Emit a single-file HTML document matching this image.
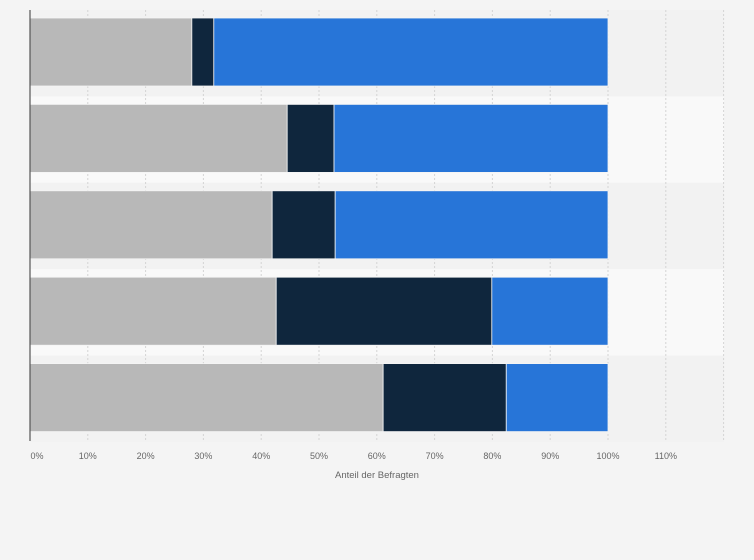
<!DOCTYPE html>
<html><head><meta charset="utf-8"><style>
body{margin:0;background:#f4f4f4;font-family:"Liberation Sans",sans-serif}
svg{display:block}
</style></head><body>
<svg width="754" height="560" xmlns="http://www.w3.org/2000/svg" id="c">
<rect width="754" height="560" fill="#f4f4f4"/>
<g id="bands"></g><g id="grid"></g><g id="bars"></g><g id="ticks"></g>
<line x1="30" y1="10" x2="30" y2="441" stroke="#555" stroke-width="1.2"/>
<text x="377" y="478" font-size="9.5" fill="#666" text-anchor="middle">Anteil der Befragten</text>
</svg>
<script>
const categories=["r1","r2","r3","r4","r5"];
const seriesGray=[28.0,44.5,41.9,42.6,61.1];
const seriesDark=[3.8,8.1,10.9,37.3,21.3];
const seriesBlue=[68.2,47.4,47.2,20.1,17.6];
const tickValues=[0,10,20,30,40,50,60,70,80,90,100,110];
const tickLabels=["0%","10%","20%","30%","40%","50%","60%","70%","80%","90%","100%","110%"];
const NS="http://www.w3.org/2000/svg";
const xs=v=>30+v*5.78;
const bandH=86.4, plotTop=10;
const ys=i=>plotTop+i*bandH;
function mk(t,a,p){const e=document.createElementNS(NS,t);for(const k in a)e.setAttribute(k,a[k]);p.appendChild(e);return e;}
const bandsG=document.getElementById('bands'),gridG=document.getElementById('grid'),barsG=document.getElementById('bars'),ticksG=document.getElementById('ticks');
categories.forEach((c,i)=>{
 const b=mk('rect',{x:30,y:ys(i),width:694,height:bandH,fill:i%2?'#f9f9f9':'#f2f2f2'},bandsG);
 
 
});
tickValues.concat([120]).forEach((v)=>{
 const l=mk('line',{x1:xs(v),x2:xs(v),y1:10,y2:441,stroke:'#d4d4d4','stroke-dasharray':'2,2','stroke-width':1},gridG);
 
 
});
categories.forEach((c,i)=>{
 const y0=ys(i)+8, h=68;
 let s=0;
 [[seriesGray,'#b8b8b8','gray'],[seriesDark,'#0f263d','dark'],[seriesBlue,'#2775d8','blue']].forEach(([arr,col,n])=>{
  const r=mk('rect',{x:xs(s),y:y0,width:arr[i]*5.78,height:h,fill:col,stroke:'#f4f4f4','stroke-width':0.8},barsG);
  
  
  s+=arr[i];
 });
});
tickValues.forEach((v,i)=>{
 const t=mk('text',{x:i==0?37:xs(v),y:459,'font-size':9,fill:'#666','text-anchor':'middle'},ticksG);
 t.textContent=tickLabels[i];
 
 
});
</script>
</body></html>
